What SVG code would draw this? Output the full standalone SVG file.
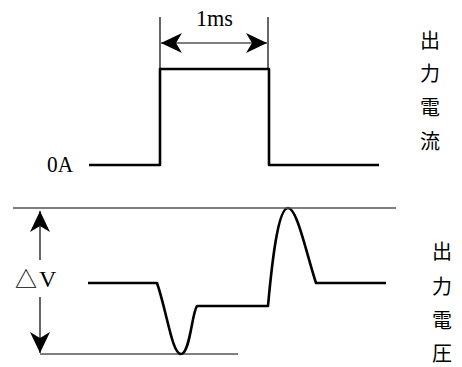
<svg xmlns="http://www.w3.org/2000/svg" width="462" height="367" viewBox="0 0 462 367">
<style>
.wave{fill:none;stroke:#000;stroke-width:2.6;stroke-linejoin:round}
.thin{fill:none;stroke:#000;stroke-width:1.2}
.ref{fill:none;stroke:#555;stroke-width:1.6}
.lat{font-family:"Liberation Serif","Noto Sans CJK JP",serif;font-size:24px;fill:#000}
.cjk{font-family:"Noto Sans CJK JP","Noto Sans CJK SC",sans-serif;font-size:20px;fill:#000;text-anchor:middle}
</style>
<defs>
<marker id="ah" viewBox="-22 -11 24 22" refX="0" refY="0" markerWidth="24" markerHeight="22" markerUnits="userSpaceOnUse" orient="auto-start-reverse">
<path d="M0,0 L-21,-10 L-15,0 L-21,10 Z" fill="#000"/>
</marker>
</defs>
<rect width="462" height="367" fill="#fff"/>
<g id="current-wave">
<path class="wave" d="M89,165 L160,165 L160,69 L269,69 L269,165 L379,165"/>
</g>
<g id="voltage-wave">
<path class="wave" d="M88,283 L157,283 C167,312 172,354 181,354 C190,354 192,312 197,306 L268,306 C272,262 278,208 288,208 C297,208 306,252 316,283 L386,283"/>
</g>
<g id="reference-lines">
<line class="thin" x1="160" y1="17" x2="160" y2="69"/>
<line class="thin" x1="268" y1="17" x2="268" y2="69"/>
<line class="ref" x1="13" y1="208" x2="396" y2="208"/>
<line class="thin" x1="40" y1="354" x2="238" y2="354"/>
</g>
<g id="connectors">
<line class="thin" x1="161" y1="43" x2="267" y2="43" marker-start="url(#ah)" marker-end="url(#ah)"/>
<line class="thin" x1="40" y1="260" x2="40" y2="211" marker-end="url(#ah)"/>
<line class="thin" x1="40" y1="297" x2="40" y2="353" marker-end="url(#ah)"/>
</g>
<g id="labels">
<text class="lat" x="196" y="26" font-size="22" textLength="37" lengthAdjust="spacingAndGlyphs">1ms</text>
<text class="lat" x="47" y="172" font-size="25" textLength="26" lengthAdjust="spacingAndGlyphs">0A</text>
<text class="lat" x="15" y="287" font-size="24"><tspan font-family="Noto Sans CJK JP, sans-serif" font-size="22">△</tspan><tspan x="39">V</tspan></text>
<text class="cjk" x="430" y="48">出</text>
<text class="cjk" x="430" y="81">力</text>
<text class="cjk" x="430" y="115">電</text>
<text class="cjk" x="430" y="149">流</text>
<text class="cjk" x="442" y="259">出</text>
<text class="cjk" x="442" y="294">力</text>
<text class="cjk" x="442" y="328">電</text>
<text class="cjk" x="442" y="361">圧</text>
</g>
</svg>
